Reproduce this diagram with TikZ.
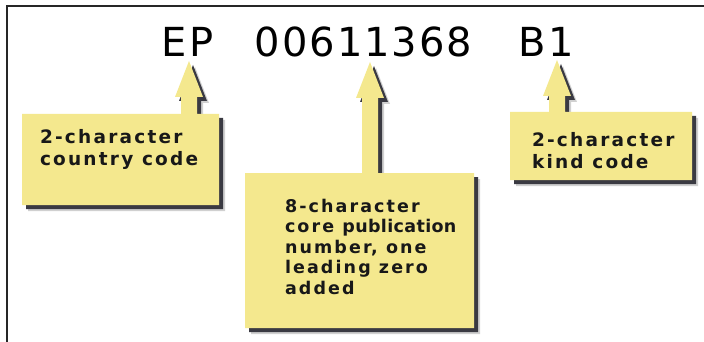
\documentclass[tikz,border=0pt]{standalone}
\usepackage{fontspec}
\setmainfont{DejaVu Sans}
\newfontfamily\titlefont[LetterSpace=5]{DejaVu Sans}
\newfontfamily\boxfont[LetterSpace=12]{DejaVu Sans}
\newfontfamily\tightfont[LetterSpace=2]{DejaVu Sans}
\usetikzlibrary{calc}
\definecolor{calloutyellow}{RGB}{244,232,142}
\definecolor{shadowgray}{RGB}{58,58,66}
\definecolor{inkc}{RGB}{24,24,24}
\tikzset{
  boxframe/.style={draw=none, fill=none, inner sep=0pt, outer sep=0pt, anchor=north west, rectangle},
  labeltext/.style={anchor=north west, inner sep=0pt, outer sep=0pt, align=left, text=inkc,
    font=\boxfont\bfseries\fontsize{18.5}{22}\selectfont},
  titletext/.style={anchor=base, inner sep=0pt, text=black,
    font=\titlefont\fontsize{40}{48}\selectfont},
  softshadow/.style={fill=black!30, opacity=0.6},
  hardshadow/.style={fill=shadowgray},
  calloutfill/.style={fill=calloutyellow},
}
% #1 tip coordinate, #2 box node, #3 fill style
\newcommand\callout[3]{%
  \fill[#3] let \p1=(#1), \p2=(#2.north west), \p3=(#2.south east) in
    (\p1) -- (\x1+14pt,\y1-36pt) -- (\x1+8pt,\y1-36pt) -- (\x1+8pt,\y2)
    -- (\x3,\y2) -- (\x3,\y3) -- (\x2,\y3) -- (\x2,\y2)
    -- (\x1-8pt,\y2) -- (\x1-8pt,\y1-36pt) -- (\x1-14pt,\y1-36pt) -- cycle;}
\begin{document}
\begin{tikzpicture}[x=1pt,y=-1pt]
\useasboundingbox (0,0) rectangle (704,342);
\fill[white] (0,0) rectangle (704,342);
% frame (only top and left edges are visible)
\draw[line width=2.6pt, black!85] (7,342) -- (7,6) -- (704,6);

% title
\node[titletext] (ep) at (187.5,57) {EP};
\node[titletext] (num) at (363.5,57) {00611368};
\node[titletext] (kind) at (546,57) {B1};

% arrow tips
\coordinate (t1) at (189,61);
\coordinate (t2) at (370,62);
\coordinate (t3) at (557,60);

% boxes
\node[boxframe, minimum width=197pt, minimum height=91pt] (b1) at (22,114) {};
\node[boxframe, minimum width=229pt, minimum height=155pt] (b2) at (245,173) {};
\node[boxframe, minimum width=182pt, minimum height=68pt] (b3) at (510,112) {};

% shadows
\begin{scope}[transform canvas={shift={(6pt,-6pt)}}]
  \callout{t1}{b1}{softshadow}
  \callout{t2}{b2}{softshadow}
  \callout{t3}{b3}{softshadow}
\end{scope}
\begin{scope}[transform canvas={shift={(4pt,-4pt)}}]
  \callout{t1}{b1}{hardshadow}
  \callout{t2}{b2}{hardshadow}
  \callout{t3}{b3}{hardshadow}
\end{scope}
% callouts
\callout{t1}{b1}{calloutfill}
\callout{t2}{b2}{calloutfill}
\callout{t3}{b3}{calloutfill}

% labels
\node[labeltext] (l1) at (40,129) {2-character\\country code};
\node[labeltext, font=\boxfont\bfseries\fontsize{17.5}{20.5}\selectfont] (l2) at (285,199)
  {8-character\\core {\tightfont\bfseries publication}\\number, one\\leading zero\\added};
\node[labeltext] (l3) at (532,132) {2-character\\kind code};
\end{tikzpicture}
\end{document}
